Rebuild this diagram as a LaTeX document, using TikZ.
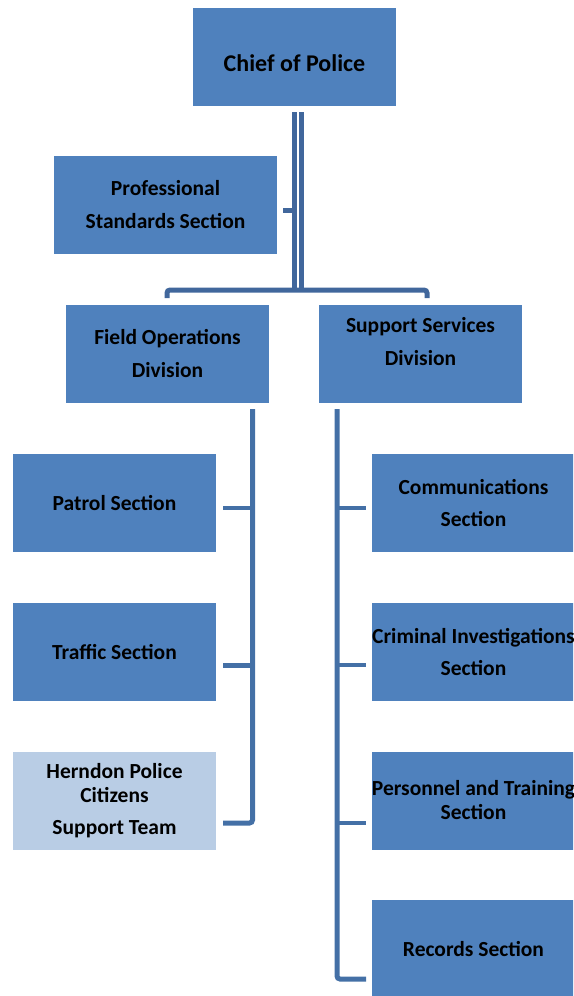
\documentclass[tikz,border=0pt]{standalone}
\usepackage{fontspec}
\setmainfont{Carlito}
\definecolor{boxblue}{HTML}{4F81BD}
\definecolor{lightbox}{HTML}{B9CDE5}
\definecolor{linkblue}{HTML}{4470A6}
\definecolor{darklink}{HTML}{41679C}
\begin{document}
\begin{tikzpicture}[x=1pt,y=-1pt,
  unit/.style={fill=boxblue, draw=none, inner sep=0pt, minimum width=203pt,
    minimum height=98pt, font=\bfseries\fontsize{21.5}{24}\selectfont,
    align=center, text=black},
  label text/.style={inner sep=0pt, font=\bfseries\fontsize{21.5}{24}\selectfont,
    align=center, text=black},
  link/.style={draw=linkblue, line width=5pt},
  stub/.style={draw=linkblue, line width=4.5pt},
  bus/.style={draw=darklink, line width=5pt, rounded corners=3pt}]
\useasboundingbox (0,0) rectangle (573,996);
\begin{scope}
\clip (0,0) rectangle (573,996);
% boxes
\node[unit] (chief) at (294.5,56.5) {};
\node[label text, font=\bfseries\fontsize{24}{26}\selectfont] (chieft) at (294.5,63) {Chief of Police};
\node[unit, minimum width=223pt] (prof) at (165.5,205) {Professional\\[9pt]Standards Section};
\node[unit] (fod) at (167.5,354) {Field Operations\\[9pt]Division};
\node[unit] (ssd) at (420.5,354) {};
\node[label text] (ssdt) at (420.5,342) {Support Services\\[9pt]Division};
\node[unit] (patrol) at (114.5,503) {Patrol Section};
\node[unit] (traffic) at (114.5,652) {Traffic Section};
\node[unit, fill=lightbox] (hpcst) at (114.5,800.5) {Herndon Police\\Citizens\\[8pt]Support Team};
\node[unit] (comm) at (473.5,503) {Communications\\[8pt]Section};
\node[unit] (cis) at (473.5,652) {Criminal Investigations\\[8pt]Section};
\node[unit] (pts) at (473.5,800.5) {Personnel and Training\\Section};
\node[unit] (rec) at (473.5,949) {Records Section};
\end{scope}
% coordinates
\coordinate (dtop) at (298,112);
\coordinate (dbot) at (298,291);
\coordinate (busl) at (167,298);
\coordinate (busr) at (427,298);
\coordinate (ltop) at (252.5,409);
\coordinate (lbot) at (252.5,823);
\coordinate (rtop) at (337,409);
\coordinate (rbot) at (337,979);
% chief double line
\draw[draw=darklink, line width=5pt, double=white, double distance=2.3pt] (dtop) -- (dbot);
% bus to divisions
\draw[bus] (busl) -- (busl |- 0,290) -- (busr |- 0,290) -- (busr);
% professional stub
\draw[stub, draw=darklink] (283,210.7) -- (292,210.7);
% left trunk
\draw[link, rounded corners=3pt] (ltop) -- (lbot) -- (223,823);
\draw[stub] (223,508) -- (ltop |- 0,508);
\draw[stub] (223,665.5) -- (ltop |- 0,665.5);
% right trunk
\draw[link, rounded corners=3pt] (rtop) -- (rbot) -- (366,979);
\draw[stub] (rtop |- 0,508) -- (366,508);
\draw[stub] (rtop |- 0,665) -- (366,665);
\draw[stub] (rtop |- 0,823) -- (366,823);
\end{tikzpicture}
\end{document}
